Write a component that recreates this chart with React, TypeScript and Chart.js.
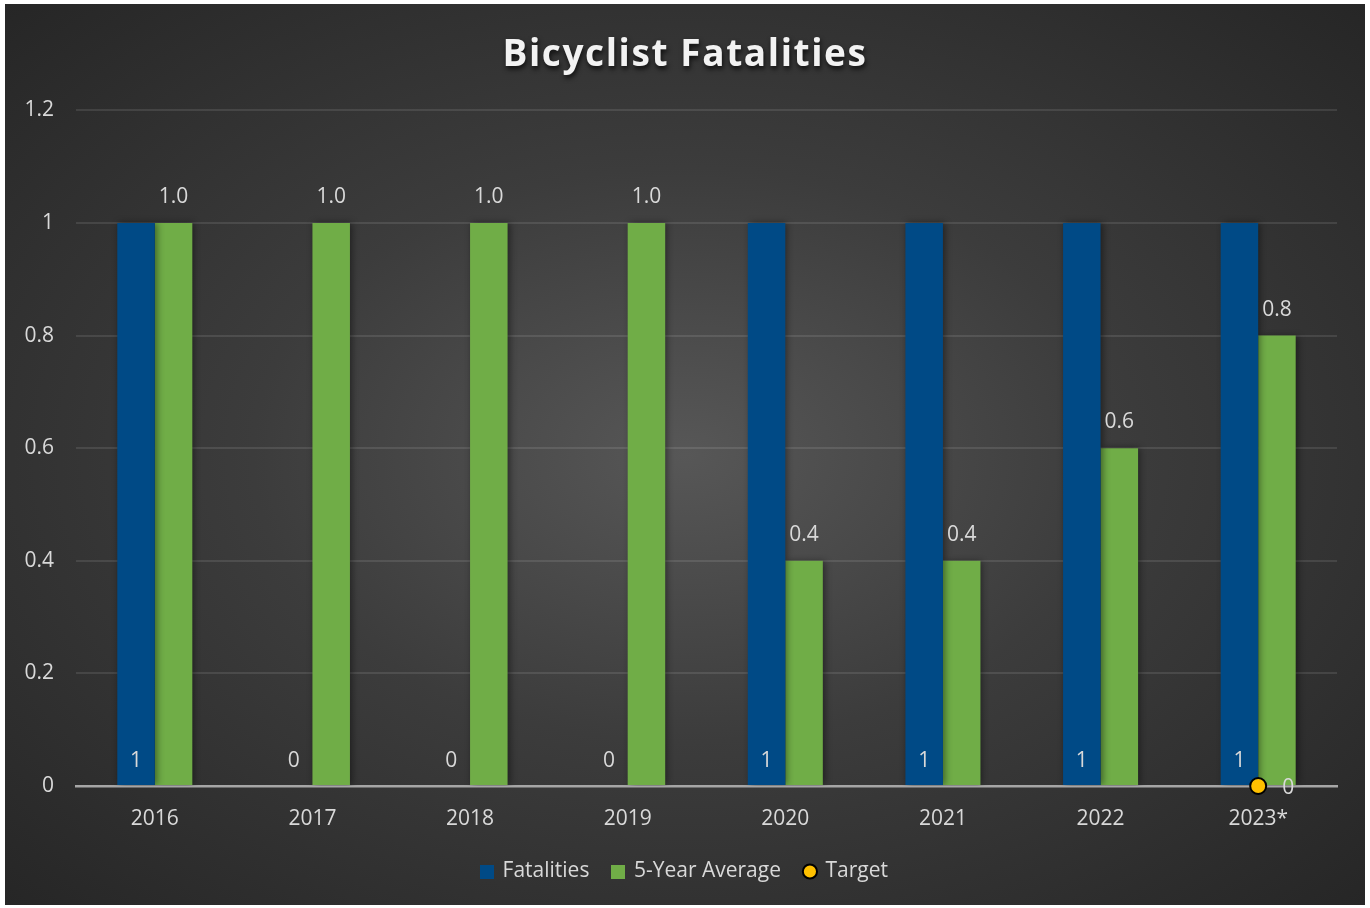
import React, { useEffect, useRef } from "react";
import { Chart, registerables } from "chart.js";

Chart.register(...registerables);

const TITLE = "Bicyclist Fatalities";
const categories = ["2016", "2017", "2018", "2019", "2020", "2021", "2022", "2023*"];
const fatalities = [1, 0, 0, 0, 1, 1, 1, 1];
const fiveYearAverage = [1.0, 1.0, 1.0, 1.0, 0.4, 0.4, 0.6, 0.8];
const target = [null, null, null, null, null, null, null, 0];
const yTickMax = 1.2;
const yTickStep = 0.2;

const BLUE = "#004a86";
const GREEN = "#70ad47";
const GOLD = "#ffc000";
const TEXT = "#d9d9d9";
const FONT = "'Open Sans', 'Noto Sans', sans-serif";

function squareIcon(color: string, size: number) {
  const c = document.createElement("canvas");
  c.width = size;
  c.height = size;
  const g = c.getContext("2d")!;
  g.fillStyle = color;
  g.fillRect(0, 0, size, size);
  return c;
}

const titleShadowPlugin = {
  id: "titleShadow",
  beforeDraw(chart: any) {
    const tb = chart.titleBlock;
    if (tb && !tb._patched) {
      const orig = tb.draw.bind(tb);
      tb.draw = function () {
        const ctx = chart.ctx;
        ctx.save();
        ctx.shadowColor = "rgba(0,0,0,0.75)";
        ctx.shadowBlur = 5;
        ctx.shadowOffsetX = 1;
        ctx.shadowOffsetY = 3;
        try {
          (ctx as any).letterSpacing = "1.6px";
        } catch (e) {}
        orig();
        ctx.restore();
      };
      tb._patched = true;
    }
  },
};

const barShadowPlugin = {
  id: "barShadow",
  beforeDatasetDraw(chart: any, args: any) {
    if (args.index < 2) {
      const ctx = chart.ctx;
      ctx.save();
      ctx.shadowColor = "rgba(0,0,0,0.45)";
      ctx.shadowBlur = 7;
      ctx.shadowOffsetX = 2;
      ctx.shadowOffsetY = 0;
    }
  },
  afterDatasetDraw(chart: any, args: any) {
    if (args.index < 2) chart.ctx.restore();
  },
};

const labelPlugin = {
  id: "valueLabels",
  afterDatasetsDraw(chart: any) {
    const ctx = chart.ctx;
    const yScale = chart.scales.y;
    const zeroY = yScale.getPixelForValue(0);
    ctx.save();
    ctx.font = `21px ${FONT}`;
    ctx.fillStyle = TEXT;
    ctx.textAlign = "center";
    ctx.textBaseline = "middle";
    chart.getDatasetMeta(0).data.forEach((el: any, i: number) => {
      ctx.fillText(String(fatalities[i]), el.x, zeroY - 25);
    });
    chart.getDatasetMeta(1).data.forEach((el: any, i: number) => {
      ctx.fillText(fiveYearAverage[i].toFixed(1), el.x, el.y - 26);
    });
    chart.getDatasetMeta(2).data.forEach((el: any, i: number) => {
      const v = target[i];
      if (v === null || v === undefined) return;
      ctx.fillText(String(v), el.x + 30, el.y + 2);
    });
    ctx.restore();
  },
};

export default function App() {
  const ref = useRef<HTMLCanvasElement | null>(null);

  useEffect(() => {
    document.body.style.margin = "0";
    const canvas = ref.current;
    if (!canvas) return;
    const chart = new Chart(canvas, {
      type: "bar",
      data: {
        labels: categories,
        datasets: [
          {
            label: "Fatalities",
            data: fatalities,
            backgroundColor: BLUE,
            borderWidth: 0,
            pointStyle: squareIcon(BLUE, 14) as any,
            categoryPercentage: 0.476,
            barPercentage: 1,
          } as any,
          {
            label: "5-Year Average",
            data: fiveYearAverage,
            backgroundColor: GREEN,
            borderWidth: 0,
            pointStyle: squareIcon(GREEN, 14) as any,
            categoryPercentage: 0.476,
            barPercentage: 1,
          } as any,
          {
            type: "line",
            label: "Target",
            data: target,
            showLine: false,
            backgroundColor: GOLD,
            borderColor: "#000000",
            borderWidth: 2,
            pointStyle: "circle",
            pointRadius: 8,
            pointBorderWidth: 2,
            pointBackgroundColor: GOLD,
            pointBorderColor: "#000000",
            clip: false,
            order: -1,
          } as any,
        ],
      },
      options: {
        animation: false,
        responsive: true,
        maintainAspectRatio: false,
        layout: { padding: { left: 0, right: 0, top: 4, bottom: 13 } },
        plugins: {
          title: {
            display: true,
            text: TITLE,
            color: "#f2f2f2",
            font: { family: FONT, size: 37, weight: "bold" },
            padding: { top: 25, bottom: 33 },
          },
          legend: {
            position: "bottom",
            labels: {
              color: TEXT,
              font: { family: FONT, size: 21 },
              usePointStyle: true,
              boxHeight: 10,
              boxWidth: 10,
              padding: 24,
              sort: (a: any, b: any) => a.datasetIndex - b.datasetIndex,
            },
          },
          tooltip: { enabled: false },
        },
        scales: {
          x: {
            grid: { display: false, drawTicks: false },
            border: { display: true, color: "#a6a6a6", width: 2.5 },
            ticks: { color: TEXT, font: { family: FONT, size: 21 }, padding: 20 },
            afterFit(scale: any) {
              scale.height = 51;
            },
          },
          y: {
            min: 0,
            max: yTickMax,
            ticks: {
              stepSize: yTickStep,
              color: TEXT,
              font: { family: FONT, size: 21 },
              padding: 22,
              callback: (v: any) => String(Number(Number(v).toFixed(1))),
            },
            grid: {
              drawTicks: false,
              lineWidth: 2,
              color: (ctx: any) =>
                ctx.tick && ctx.tick.value === 0 ? "rgba(0,0,0,0)" : "rgba(255,255,255,0.1)",
            },
            border: { display: false },
            afterFit(scale: any) {
              scale.width = 71;
            },
          },
          yRight: {
            position: "right",
            display: true,
            grid: { display: false, drawTicks: false },
            ticks: { display: false },
            border: { display: false },
            afterFit(scale: any) {
              scale.width = 28;
            },
          },
        },
      },
      plugins: [titleShadowPlugin, barShadowPlugin, labelPlugin],
    } as any);
    return () => chart.destroy();
  }, []);

  return (
    <div
      style={{
        position: "absolute",
        left: 5,
        top: 4,
        width: 1360,
        height: 901,
        background:
          "radial-gradient(ellipse farthest-corner at 50% 50%, #575757 0%, #3c3c3c 45%, #262626 100%)",
      }}
    >
      <canvas ref={ref} />
    </div>
  );
}
